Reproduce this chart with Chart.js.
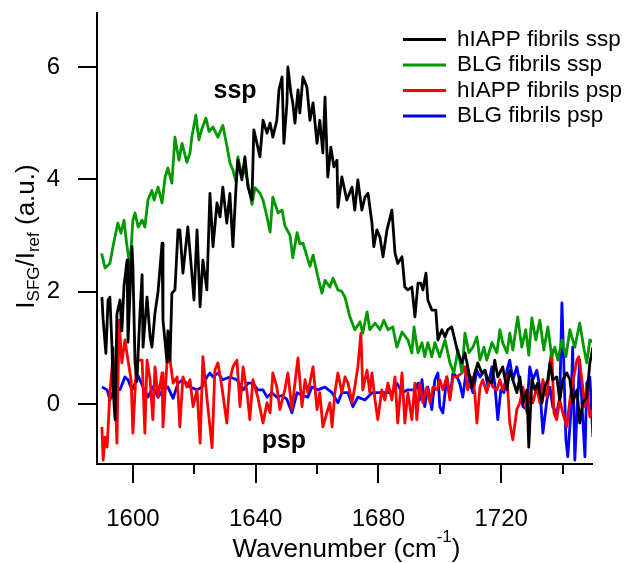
<!DOCTYPE html>
<html>
<head>
<meta charset="utf-8">
<script src="https://cdn.jsdelivr.net/npm/chart.js@4.4.1/dist/chart.umd.min.js"></script>
<style>
  html, body { margin: 0; padding: 0; background: #fff; }
  #chart { display: block; }
</style>
</head>
<body>
<canvas id="chart" width="627" height="563"></canvas>
<script>
// [wavenumber (cm-1), I_SFG/I_ref (a.u.)]
const hiappSsp = [
  [1589.9,1.9],[1590.3,1.5],[1591.2,0.9],[1591.9,1.85],[1592.5,1.9],[1593.2,1.0],[1593.5,0.3],[1594.2,-0.28],
  [1594.8,1.6],[1595.8,1.85],[1596.4,1.3],[1597.1,2.1],[1598.1,2.56],[1598.4,1.1],[1599.0,1.9],[1599.7,2.8],
  [1600.0,2.44],[1600.7,0.73],[1601.3,0.4],[1602.3,1.62],[1603.0,2.3],[1603.3,1.01],[1604.6,1.9],[1605.6,1.2],
  [1606.2,1.01],[1607.2,1.62],[1608.2,2.0],[1609.5,2.86],[1609.8,1.49],[1611.1,0.75],[1611.4,1.3],[1612.1,0.78],
  [1612.7,1.97],[1613.7,2.03],[1614.7,3.1],[1615.3,3.1],[1616.3,2.33],[1617.9,3.15],[1619.2,2.33],[1619.9,1.85],
  [1620.9,3.1],[1621.9,1.73],[1622.8,2.56],[1624.1,2.03],[1625.1,3.75],[1626.1,2.8],[1627.4,3.58],[1628.4,3.33],
  [1629.3,3.86],[1630.6,3.22],[1631.6,3.75],[1632.6,2.8],[1633.6,3.86],[1634.2,4.34],[1635.5,3.99],[1636.5,4.4],
  [1637.5,3.86],[1638.8,3.63],[1639.4,4.88],[1640.4,4.64],[1641.4,4.4],[1642.4,5.05],[1643.7,4.82],[1644.7,5.0],
  [1645.6,4.75],[1646.9,5.05],[1647.6,5.59],[1648.6,5.82],[1649.2,4.64],[1650.2,5.36],[1650.5,6.0],[1651.5,5.53],
  [1652.1,5.36],[1652.8,5.0],[1653.8,5.59],[1654.4,5.18],[1655.4,5.82],[1656.7,5.64],[1657.7,5.05],[1658.7,5.36],
  [1660.0,4.64],[1660.9,5.05],[1661.9,4.47],[1662.6,5.46],[1663.5,4.04],[1664.5,4.57],[1665.5,4.22],[1666.5,4.34],
  [1666.8,3.5],[1668.1,4.04],[1669.7,3.63],[1671.4,3.86],[1672.3,3.45],[1673.3,3.99],[1674.6,3.45],[1675.6,3.68],
  [1676.6,3.75],[1677.9,3.22],[1678.5,2.8],[1679.5,3.1],[1680.5,2.97],[1681.5,2.62],[1682.8,3.1],[1684.4,3.45],
  [1685.4,2.69],[1686.3,2.5],[1687.7,2.62],[1688.6,2.08],[1689.6,2.03],[1690.9,2.08],[1691.9,1.55],[1692.9,2.15],
  [1693.8,2.15],[1694.5,2.03],[1695.5,2.33],[1696.1,1.85],[1697.4,1.67],[1698.7,1.67],[1699.4,1.14],[1700.7,1.32],
  [1701.7,1.19],[1702.6,1.32],[1703.9,1.37],[1704.9,1.14],[1705.9,0.91],[1707.2,0.73],[1708.2,0.91],[1709.1,0.66],
  [1710.5,0.3],[1711.4,0.55],[1712.4,0.73],[1713.7,0.55],[1714.7,0.6],[1715.7,0.43],[1717.0,0.37],[1717.9,0.78],
  [1718.9,0.48],[1720.5,0.66],[1721.9,0.25],[1722.8,0.6],[1723.8,0.43],[1725.1,0.2],[1726.1,0.48],[1727.1,0.02],
  [1728.4,0.25],[1729.0,-0.77],[1730.0,0.43],[1731.0,0.25],[1731.9,0.37],[1733.3,0.02],[1734.2,0.3],[1735.2,0.43],
  [1735.9,0.73],[1736.8,0.43],[1738.1,0.48],[1739.1,0.07],[1740.1,0.43],[1741.4,0.55],[1742.4,0.43],[1743.3,0.02],
  [1744.7,0.25],[1745.6,-0.34],[1746.6,0.02],[1747.9,0.12],[1748.9,0.73],[1749.9,1.01]
];

const blgSsp = [
  [1589.8,2.68],[1590.9,2.42],[1592.5,2.5],[1593.5,2.8],[1595.1,3.22],[1596.1,3.04],[1597.1,3.27],[1597.7,2.97],
  [1599.0,2.44],[1600.0,3.27],[1600.7,3.4],[1601.7,3.15],[1603.0,3.27],[1603.9,3.15],[1604.9,3.63],[1606.2,3.8],
  [1606.9,3.63],[1608.2,3.86],[1609.5,3.58],[1610.5,4.04],[1611.4,4.2],[1612.7,3.93],[1613.7,4.75],[1615.0,4.34],
  [1616.0,4.64],[1617.6,4.3],[1618.6,4.47],[1619.2,4.75],[1620.5,5.14],[1621.5,4.7],[1622.5,4.9],[1623.8,5.09],
  [1624.8,4.85],[1626.1,4.93],[1627.7,4.75],[1629.3,4.96],[1630.6,4.6],[1631.6,4.3],[1632.6,4.16],[1633.6,3.95],
  [1634.2,4.4],[1635.5,4.07],[1636.5,4.16],[1637.5,3.93],[1638.8,3.55],[1639.8,3.85],[1641.4,3.75],[1642.4,3.63],
  [1643.7,3.33],[1644.7,3.06],[1645.6,3.68],[1647.3,3.4],[1648.6,3.45],[1649.5,3.18],[1651.2,3.0],[1652.1,2.6],
  [1653.5,3.05],[1654.4,2.85],[1655.4,2.86],[1656.1,2.74],[1657.7,2.45],[1658.7,2.65],[1660.3,2.26],[1661.6,1.97],
  [1662.6,2.2],[1664.2,2.08],[1665.2,2.24],[1666.8,2.03],[1668.1,2.0],[1669.1,1.9],[1670.7,1.55],[1672.3,1.32],
  [1674.0,1.46],[1674.9,1.26],[1676.3,1.64],[1677.2,1.32],[1678.9,1.44],[1680.5,1.32],[1681.8,1.49],[1683.1,1.32],
  [1684.7,1.37],[1686.0,1.01],[1687.7,1.28],[1689.6,1.14],[1690.9,0.91],[1691.6,1.37],[1692.9,0.91],[1694.2,1.09],
  [1695.1,0.84],[1696.1,1.09],[1697.4,0.84],[1698.4,1.09],[1700.0,0.84],[1701.7,1.14],[1703.3,0.73],[1704.6,0.55],
  [1705.9,0.96],[1707.2,0.55],[1708.2,1.26],[1709.5,0.91],[1710.8,1.01],[1712.1,1.19],[1713.1,0.78],[1714.4,1.01],
  [1715.3,0.78],[1717.0,1.09],[1718.6,0.91],[1719.6,1.32],[1720.5,1.09],[1721.9,0.91],[1722.8,1.26],[1723.8,0.96],
  [1725.4,1.55],[1726.7,1.01],[1728.0,1.32],[1729.0,0.87],[1730.0,1.53],[1731.3,1.14],[1732.6,1.49],[1733.9,0.96],
  [1735.2,1.37],[1736.5,0.84],[1737.5,1.01],[1738.5,0.78],[1739.8,1.14],[1741.1,0.84],[1742.4,1.32],[1744.0,1.01],
  [1745.6,1.44],[1746.9,1.01],[1747.9,0.73],[1748.9,1.14],[1749.9,1.1]
];

const hiappPsp = [
  [1589.9,-0.41],[1590.3,-1.0],[1590.9,-0.59],[1591.6,-0.77],[1592.5,0.2],[1593.5,0.84],[1594.2,0.12],[1594.8,-0.7],
  [1595.5,1.49],[1596.4,0.73],[1597.4,1.14],[1598.4,0.78],[1599.4,0.43],[1600.0,-0.52],[1601.0,0.55],[1601.7,0.78],
  [1603.0,0.78],[1603.9,-0.52],[1604.6,0.78],[1605.6,0.43],[1606.5,-0.28],[1607.2,0.66],[1608.2,0.12],[1609.5,0.55],
  [1609.8,-0.41],[1611.1,0.73],[1612.1,0.78],[1613.1,0.37],[1614.4,0.48],[1615.3,-0.41],[1616.3,0.48],[1617.6,0.3],
  [1618.6,0.43],[1619.6,-0.05],[1620.9,0.25],[1621.9,-0.7],[1622.8,0.84],[1624.1,0.12],[1625.8,-0.78],[1626.7,0.6],
  [1627.7,0.73],[1629.0,0.3],[1630.6,-0.34],[1631.6,0.43],[1632.6,0.66],[1633.9,0.78],[1634.9,-0.05],[1635.9,0.66],
  [1637.2,0.2],[1638.1,-0.28],[1639.1,0.43],[1640.7,0.12],[1642.4,-0.34],[1643.7,0.02],[1644.7,-0.16],[1645.6,0.55],
  [1646.9,0.3],[1647.9,-0.1],[1649.5,0.25],[1650.5,0.55],[1651.8,-0.1],[1652.8,0.37],[1653.8,0.82],[1655.1,-0.05],
  [1656.1,0.43],[1657.0,0.2],[1658.7,0.66],[1660.0,-0.1],[1660.9,0.2],[1661.9,-0.41],[1663.2,-0.16],[1664.2,0.02],
  [1664.9,-0.41],[1665.8,0.2],[1666.8,0.55],[1668.1,0.2],[1669.1,0.48],[1670.1,0.37],[1671.4,0.02],[1672.3,0.3],
  [1673.3,0.66],[1674.3,1.26],[1674.9,0.25],[1676.3,0.6],[1677.2,0.2],[1677.9,0.55],[1678.9,0.07],[1679.8,-0.28],
  [1681.1,0.25],[1682.1,0.07],[1683.1,0.37],[1684.4,0.07],[1685.4,0.48],[1686.3,-0.34],[1687.7,0.55],[1688.6,-0.34],
  [1689.6,0.2],[1690.9,-0.28],[1691.9,0.37],[1692.5,-0.28],[1693.5,0.37],[1694.5,0.02],[1695.8,0.3],[1696.8,0.02],
  [1697.8,0.3],[1699.1,0.25],[1700.0,0.43],[1701.0,0.25],[1702.3,0.48],[1703.3,0.07],[1704.3,0.48],[1705.6,0.48],
  [1707.2,0.55],[1708.2,0.66],[1709.1,0.25],[1710.5,0.48],[1711.4,0.2],[1712.1,-0.34],[1713.1,0.3],[1714.0,0.43],
  [1715.3,0.2],[1716.3,0.43],[1717.3,0.3],[1718.6,0.25],[1719.6,0.43],[1720.5,0.25],[1721.9,0.48],[1722.8,-0.34],
  [1723.8,-0.64],[1725.1,-0.1],[1726.1,0.02],[1727.1,0.3],[1728.4,-0.16],[1729.3,0.2],[1730.3,0.02],[1731.6,0.3],
  [1732.6,0.02],[1733.6,0.43],[1734.9,0.12],[1735.9,0.73],[1736.5,0.96],[1737.2,-0.16],[1738.1,-0.28],[1739.1,0.07],
  [1740.1,-0.16],[1741.4,-0.41],[1742.4,0.07],[1743.3,0.37],[1744.7,0.78],[1745.3,0.84],[1746.3,0.43],[1747.3,-0.05],
  [1747.9,0.3],[1748.9,-0.23],[1749.9,-0.1]
];

const blgPsp = [
  [1589.9,0.3],[1591.6,0.25],[1592.5,0.07],[1594.2,0.3],[1595.8,0.25],[1597.4,0.48],[1598.4,0.43],[1599.7,0.25],
  [1600.7,0.37],[1601.7,0.5],[1603.3,0.3],[1604.9,0.12],[1606.5,0.3],[1608.2,0.12],[1609.8,0.25],[1611.4,0.3],
  [1613.1,0.1],[1614.7,0.37],[1616.3,0.43],[1618.6,0.3],[1620.9,0.25],[1622.5,0.3],[1624.1,0.48],[1625.1,0.55],
  [1626.1,0.48],[1627.7,0.55],[1629.3,0.43],[1631.6,0.48],[1633.9,0.43],[1635.9,0.25],[1637.5,0.37],[1639.1,0.37],
  [1640.7,0.25],[1642.4,0.25],[1643.7,0.12],[1645.3,0.2],[1646.9,0.12],[1648.6,0.15],[1650.2,0.08],[1651.8,-0.16],
  [1653.5,0.2],[1655.4,0.15],[1657.0,0.12],[1658.3,0.3],[1660.3,0.25],[1662.6,0.3],[1664.9,0.2],[1666.8,0.02],
  [1668.1,0.2],[1670.1,0.2],[1671.7,-0.05],[1673.3,0.12],[1675.6,0.07],[1677.9,0.2],[1679.8,0.2],[1682.1,0.2],
  [1684.4,0.2],[1686.0,0.37],[1687.7,0.2],[1689.6,0.25],[1691.9,0.25],[1692.9,0.37],[1693.5,0.07],[1694.2,0.43],
  [1695.1,-0.05],[1696.1,0.3],[1697.4,-0.1],[1698.4,0.43],[1699.4,0.55],[1700.0,-0.05],[1701.0,-0.16],[1702.3,0.48],
  [1703.3,0.12],[1704.3,0.55],[1705.6,0.48],[1706.5,0.37],[1707.5,0.12],[1708.8,0.66],[1709.8,0.37],[1710.8,0.2],
  [1712.1,0.6],[1713.1,0.48],[1714.7,0.6],[1715.7,0.3],[1717.0,0.66],[1717.9,0.37],[1718.9,-0.28],[1719.9,0.25],
  [1720.9,0.2],[1721.9,0.6],[1722.8,0.78],[1723.8,0.43],[1725.1,0.66],[1726.1,0.37],[1727.1,-0.05],[1728.4,-0.1],
  [1729.3,0.66],[1730.3,0.43],[1731.6,0.6],[1732.6,0.3],[1733.6,-0.52],[1734.9,0.07],[1735.9,0.3],[1736.8,-0.05],
  [1738.1,-0.16],[1739.1,0.12],[1739.8,1.8],[1740.4,0.73],[1741.1,-0.64],[1741.7,-0.94],[1742.7,-0.16],[1743.3,1.01],
  [1744.0,-1.0],[1744.7,-0.16],[1745.6,0.78],[1746.6,-0.28],[1747.3,-0.94],[1747.9,0.37],[1748.9,0.48],[1749.9,-0.59]
];

const seriesNames = ["hIAPP fibrils ssp", "BLG fibrils ssp", "hIAPP fibrils psp", "BLG fibrils psp"];
const seriesColors = ["#000000", "#009a00", "#ff0000", "#0000ff"];
const xTicks = [1600, 1620, 1640, 1660, 1680, 1700, 1720, 1740];
const xLabelled = [1600, 1640, 1680, 1720];
const yTicks = [0, 2, 4, 6];
const notes = [
  { text: "ssp", x: 1633.3, y: 5.45 },
  { text: "psp", x: 1649.2, y: -0.78 }
];

const FONT = "'Liberation Sans', Arial, sans-serif";

// axis ticks (major/minor), axis titles with sub/superscripts, legend, notes
const decor = {
  id: "decor",
  afterDraw(chart) {
    const { ctx, chartArea: a, scales: { x, y } } = chart;
    ctx.save();
    ctx.strokeStyle = "#000";
    ctx.lineWidth = 2;
    ctx.beginPath();
    xTicks.forEach(v => {
      const px = Math.round(x.getPixelForValue(v));
      const len = xLabelled.includes(v) ? 19 : 10;
      ctx.moveTo(px, a.bottom);
      ctx.lineTo(px, a.bottom + len);
    });
    yTicks.forEach(v => {
      const py = Math.round(y.getPixelForValue(v));
      ctx.moveTo(a.left - 19, py);
      ctx.lineTo(a.left, py);
    });
    ctx.stroke();

    ctx.fillStyle = "#000";
    ctx.textBaseline = "alphabetic";
    ctx.textAlign = "left";

    // x title: Wavenumber (cm^-1)
    const big = "26px " + FONT, small = "17px " + FONT;
    ctx.font = big;
    const w1 = ctx.measureText("Wavenumber (cm").width;
    const w3 = ctx.measureText(")").width;
    ctx.font = small;
    const w2 = ctx.measureText("-1").width;
    let tx = (a.left + a.right) / 2 + 2 - (w1 + w2 + w3) / 2;
    const ty = 557;
    ctx.font = big; ctx.fillText("Wavenumber (cm", tx, ty); tx += w1;
    ctx.font = small; ctx.fillText("-1", tx, ty - 15); tx += w2;
    ctx.font = big; ctx.fillText(")", tx, ty);

    // y title: I_SFG/I_ref (a.u.)
    const parts = [
      ["I", big, 0], ["SFG", small, 5], ["/I", big, 0], ["ref", small, 5], [" (a.u.)", big, 0]
    ];
    let total = 0;
    parts.forEach(p => { ctx.font = p[1]; p.push(ctx.measureText(p[0]).width); total += p[3]; });
    ctx.translate(34, (a.top + a.bottom) / 2 - 2);
    ctx.rotate(-Math.PI / 2);
    let px = -total / 2;
    parts.forEach(p => { ctx.font = p[1]; ctx.fillText(p[0], px, p[2]); px += p[3]; });
    ctx.setTransform(1, 0, 0, 1, 0, 0);

    // legend
    ctx.font = "22.5px " + FONT;
    ctx.textBaseline = "middle";
    ctx.lineWidth = 3;
    seriesNames.forEach((name, i) => {
      const ly = 39.5 + 25.5 * i;
      ctx.strokeStyle = seriesColors[i];
      ctx.beginPath();
      ctx.moveTo(403, ly);
      ctx.lineTo(446, ly);
      ctx.stroke();
      ctx.fillText(name, 457, ly);
    });

    // notes
    ctx.font = "bold 25px " + FONT;
    ctx.textAlign = "center";
    ctx.textBaseline = "alphabetic";
    notes.forEach(n => ctx.fillText(n.text, x.getPixelForValue(n.x), y.getPixelForValue(n.y)));
    ctx.restore();
  }
};

const toXY = arr => arr.map(p => ({ x: p[0], y: p[1] }));
const series = [hiappSsp, blgSsp, hiappPsp, blgPsp];

new Chart(document.getElementById("chart"), {
  type: "line",
  data: {
    datasets: series.map((s, i) => ({
      label: seriesNames[i],
      data: toXY(s),
      borderColor: seriesColors[i],
      backgroundColor: seriesColors[i],
      borderWidth: 2.8,
      pointRadius: 0,
      tension: 0,
      borderJoinStyle: "round",
      fill: false
    }))
  },
  options: {
    responsive: false,
    animation: false,
    devicePixelRatio: 1,
    layout: { padding: { left: 0, top: 13, right: 35, bottom: 0 } },
    plugins: { legend: { display: false }, tooltip: { enabled: false } },
    scales: {
      x: {
        type: "linear",
        min: 1588.3,
        max: 1749.6,
        afterBuildTicks: s => { s.ticks = xTicks.map(v => ({ value: v })); },
        afterFit: s => { s.height = 99; s.paddingLeft = 0; s.paddingRight = 0; },
        grid: { display: false },
        border: { display: true, color: "#000", width: 2 },
        ticks: {
          autoSkip: false,
          maxRotation: 0,
          padding: 33,
          color: "#000",
          font: { family: FONT, size: 24 },
          callback: v => (xLabelled.includes(v) ? String(v) : "")
        }
      },
      y: {
        min: -1.07,
        max: 6.96,
        afterBuildTicks: s => { s.ticks = yTicks.map(v => ({ value: v })); },
        afterFit: s => { s.width = 97; s.paddingTop = 0; s.paddingBottom = 0; },
        grid: { display: false },
        border: { display: true, color: "#000", width: 2 },
        ticks: {
          padding: 29,
          color: "#000",
          font: { family: FONT, size: 24 },
          callback: v => String(v)
        }
      }
    }
  },
  plugins: [decor]
});
</script>
</body>
</html>
